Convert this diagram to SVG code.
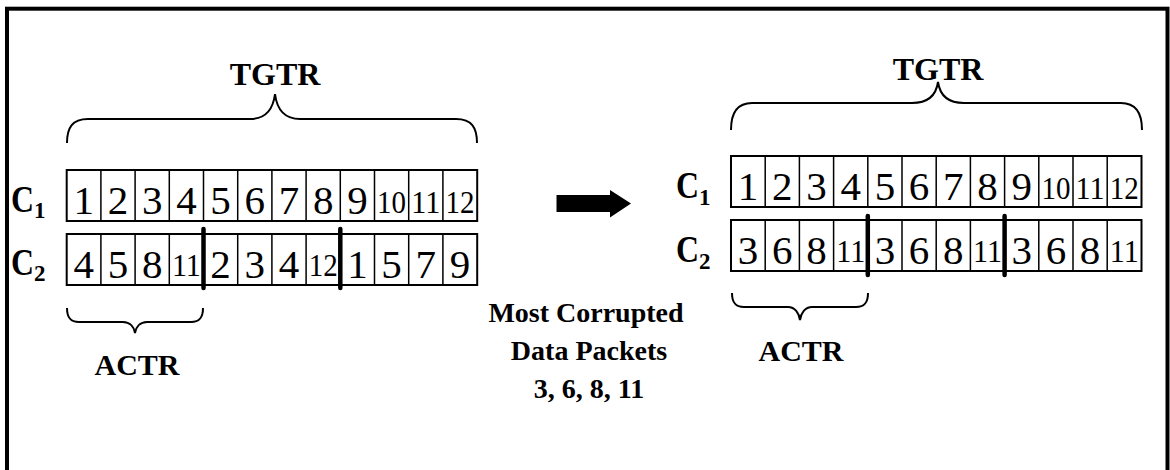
<svg xmlns="http://www.w3.org/2000/svg" width="1170" height="470" viewBox="0 0 1170 470">
<style>
.frame{fill:#fff;stroke:#000;stroke-width:4}
.row{fill:#fff;stroke:#000;stroke-width:2}
.div{stroke:#000;stroke-width:1.5}
.sep{stroke:#000;stroke-width:4.5;stroke-linecap:round}
.brace{fill:none;stroke:#000;stroke-width:2}
.d{font-family:"Liberation Serif","Times New Roman",serif;font-size:41px;text-anchor:middle;fill:#000}
.dd{font-family:"Liberation Serif","Times New Roman",serif;font-size:32px;text-anchor:middle;fill:#000}
.lab{font-family:"Liberation Serif","Times New Roman",serif;font-weight:bold;fill:#000}
.c{font-size:38px}
.sub{font-size:23px}
.title{font-size:32px;text-anchor:middle}
.actr{font-size:30px;text-anchor:middle}
.note{font-size:28px;text-anchor:middle}
</style>
<defs>
<g id="cells">
<rect class="row" x="0" y="0" width="410.5" height="51"/>
<path class="div" d="M34.2,0V51M68.4,0V51M102.6,0V51M136.8,0V51M171,0V51M205.2,0V51M239.4,0V51M273.6,0V51M307.8,0V51M342,0V51M376.2,0V51"/>
</g>
</defs>
<rect class="frame" x="7" y="8.7" width="1160.5" height="520"/>

<g id="left-tgtr">
<path class="brace" d="M67,143 C67,128 72,119 88,119 L250,119 C265,119 273,110 275,94 C277,110 285,119 300,119 L456,119 C472,119 477,128 477,143"/>
<text class="lab title" x="275" y="85">TGTR</text>
</g>

<g id="left-c1">
<text class="lab c" x="11" y="212"><tspan textLength="23" lengthAdjust="spacingAndGlyphs">C</tspan><tspan class="sub" x="34" y="218">1</tspan></text>
<use href="#cells" x="66.7" y="170"/>
<g class="d">
<text x="83.8" y="214">1</text><text x="118" y="214">2</text><text x="152.2" y="214">3</text><text x="186.4" y="214">4</text>
<text x="220.6" y="214">5</text><text x="254.8" y="214">6</text><text x="289" y="214">7</text><text x="323.2" y="214">8</text>
<text x="357.4" y="214">9</text>
</g>
<g class="dd">
<text x="391.6" y="213" textLength="29" lengthAdjust="spacingAndGlyphs">10</text><text x="425.8" y="213" textLength="29" lengthAdjust="spacingAndGlyphs">11</text><text x="460" y="213" textLength="29" lengthAdjust="spacingAndGlyphs">12</text>
</g>
</g>

<g id="left-c2">
<text class="lab c" x="11" y="275"><tspan textLength="23" lengthAdjust="spacingAndGlyphs">C</tspan><tspan class="sub" x="34" y="281">2</tspan></text>
<use href="#cells" x="66.7" y="234"/>
<g class="d">
<text x="83.8" y="278">4</text><text x="118" y="278">5</text><text x="152.2" y="278">8</text>
<text x="220.6" y="278">2</text><text x="254.8" y="278">3</text><text x="289" y="278">4</text>
<text x="357.4" y="278">1</text><text x="391.6" y="278">5</text><text x="425.8" y="278">7</text><text x="460" y="278">9</text>
</g>
<g class="dd">
<text x="186.4" y="276" textLength="29" lengthAdjust="spacingAndGlyphs">11</text><text x="323.2" y="276" textLength="29" lengthAdjust="spacingAndGlyphs">12</text>
</g>
<line class="sep" x1="203.5" y1="229" x2="203.5" y2="288"/>
<line class="sep" x1="340.3" y1="229" x2="340.3" y2="288"/>
</g>

<g id="left-actr">
<path class="brace" d="M67,308 C67,317 70,322 79,322 L123,322 C130,322 134,327 135,333 C136,327 140,322 147,322 L191,322 C200,322 203,317 203,308"/>
<text class="lab actr" x="137" y="375">ACTR</text>
</g>

<g id="connectors">
<path d="M556.5,195 H610 V190 L631,203.5 L610,217.5 V212 H556.5 Z" fill="#000"/>
</g>

<g id="note">
<text class="lab note" x="586" y="322">Most Corrupted</text>
<text class="lab note" x="589" y="360">Data Packets</text>
<text class="lab note" x="589" y="398">3, 6, 8, 11</text>
</g>

<g id="right-tgtr">
<path class="brace" d="M731,130 C731,114 736,103 752,103 L912,103 C927,103 936,96 938,82 C940,96 949,103 964,103 L1121,103 C1137,103 1142,114 1142,130"/>
<text class="lab title" x="938" y="80">TGTR</text>
</g>

<g id="right-c1">
<text class="lab c" x="676" y="198"><tspan textLength="23" lengthAdjust="spacingAndGlyphs">C</tspan><tspan class="sub" x="699" y="205">1</tspan></text>
<use href="#cells" x="731" y="156"/>
<g class="d">
<text x="748.1" y="200">1</text><text x="782.3" y="200">2</text><text x="816.5" y="200">3</text><text x="850.7" y="200">4</text>
<text x="884.9" y="200">5</text><text x="919.1" y="200">6</text><text x="953.3" y="200">7</text><text x="987.5" y="200">8</text>
<text x="1021.7" y="200">9</text>
</g>
<g class="dd">
<text x="1055.9" y="199" textLength="29" lengthAdjust="spacingAndGlyphs">10</text><text x="1090.1" y="199" textLength="29" lengthAdjust="spacingAndGlyphs">11</text><text x="1124.3" y="199" textLength="29" lengthAdjust="spacingAndGlyphs">12</text>
</g>
</g>

<g id="right-c2">
<text class="lab c" x="676" y="262"><tspan textLength="23" lengthAdjust="spacingAndGlyphs">C</tspan><tspan class="sub" x="699" y="269">2</tspan></text>
<use href="#cells" x="731" y="220"/>
<g class="d">
<text x="748.1" y="264">3</text><text x="782.3" y="264">6</text><text x="816.5" y="264">8</text>
<text x="884.9" y="264">3</text><text x="919.1" y="264">6</text><text x="953.3" y="264">8</text>
<text x="1021.7" y="264">3</text><text x="1055.9" y="264">6</text><text x="1090.1" y="264">8</text>
</g>
<g class="dd">
<text x="850.7" y="262" textLength="29" lengthAdjust="spacingAndGlyphs">11</text><text x="987.5" y="262" textLength="29" lengthAdjust="spacingAndGlyphs">11</text><text x="1124.3" y="262" textLength="29" lengthAdjust="spacingAndGlyphs">11</text>
</g>
<line class="sep" x1="867.8" y1="216" x2="867.8" y2="275"/>
<line class="sep" x1="1004.6" y1="216" x2="1004.6" y2="275"/>
</g>

<g id="right-actr">
<path class="brace" d="M732,293 C732,302 735,307 744,307 L788,307 C795,307 799,313 800,320 C801,313 805,307 812,307 L856,307 C865,307 868,302 868,293"/>
<text class="lab actr" x="801" y="361">ACTR</text>
</g>
</svg>
